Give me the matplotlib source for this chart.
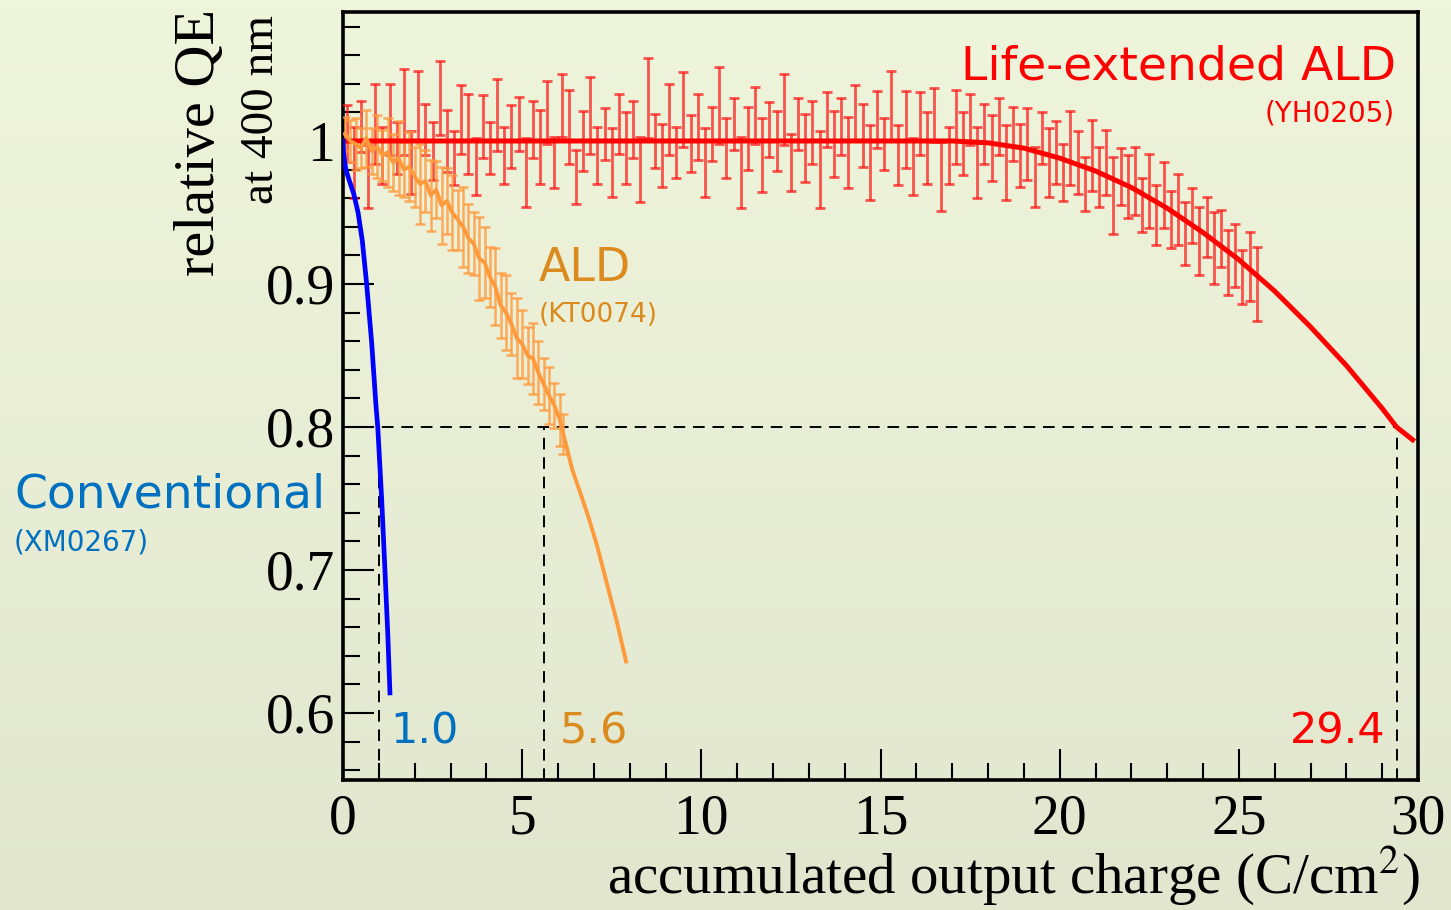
import numpy as np
import matplotlib
matplotlib.use('Agg')
import matplotlib.pyplot as plt
from matplotlib.ticker import MultipleLocator, FixedLocator, FixedFormatter

plt.rcParams['mathtext.fontset'] = 'stix'

# Life-extended ALD (YH0205) - measured points
red_x = [0.1, 0.3, 0.5, 0.7, 0.9, 1.1, 1.3, 1.5, 1.7, 1.9,
         2.1, 2.3, 2.5, 2.7, 2.9, 3.1, 3.3, 3.5, 3.7, 3.9,
         4.1, 4.3, 4.5, 4.7, 4.9, 5.1, 5.3, 5.5, 5.7, 5.9,
         6.1, 6.3, 6.5, 6.7, 6.9, 7.1, 7.3, 7.5, 7.7, 7.9,
         8.1, 8.3, 8.5, 8.7, 8.9, 9.1, 9.3, 9.5, 9.7, 9.9,
         10.1, 10.3, 10.5, 10.7, 10.9, 11.1, 11.3, 11.5, 11.7, 11.9,
         12.1, 12.3, 12.5, 12.7, 12.9, 13.1, 13.3, 13.5, 13.7, 13.9,
         14.1, 14.3, 14.5, 14.7, 14.9, 15.1, 15.3, 15.5, 15.7, 15.9,
         16.1, 16.3, 16.5, 16.7, 16.9, 17.1, 17.3, 17.5, 17.7, 17.9,
         18.1, 18.3, 18.5, 18.7, 18.9, 19.1, 19.3, 19.5, 19.7, 19.9,
         20.1, 20.3, 20.5, 20.7, 20.9, 21.1, 21.3, 21.5, 21.7, 21.9,
         22.1, 22.3, 22.5, 22.7, 22.9, 23.1, 23.3, 23.5, 23.7, 23.9,
         24.1, 24.3, 24.5, 24.7, 24.9, 25.1, 25.3, 25.5]
red_y = [1.005, 0.985, 1.010, 0.975, 1.012, 0.990, 1.015, 0.995, 1.020, 0.985,
         1.025, 1.008, 0.993, 1.030, 1.000, 0.988, 1.015, 1.005, 0.982, 1.010,
         0.995, 1.018, 0.990, 1.003, 1.012, 0.978, 1.008, 0.996, 1.020, 0.985,
         1.025, 1.010, 0.975, 1.000, 1.018, 0.990, 1.005, 0.985, 1.012, 0.995,
         1.008, 0.980, 1.030, 1.000, 0.990, 1.015, 0.992, 1.022, 0.998, 1.010,
         0.985, 1.005, 1.025, 0.995, 1.012, 0.978, 1.002, 1.018, 0.990, 1.008,
         1.000, 1.022, 0.985, 1.012, 0.995, 1.006, 0.980, 1.015, 0.998, 1.010,
         0.992, 1.020, 1.004, 0.985, 1.015, 0.998, 1.025, 0.990, 1.008, 0.982,
         1.012, 0.995, 1.018, 0.975, 0.990, 1.010, 0.998, 1.015, 0.985, 1.005,
         0.995, 1.010, 0.985, 1.005, 0.990, 0.998, 0.975, 1.002, 0.985, 0.992,
         0.978, 0.995, 0.985, 0.970, 0.990, 0.975, 0.985, 0.962, 0.975, 0.968,
         0.972, 0.955, 0.965, 0.948, 0.962, 0.945, 0.952, 0.935, 0.948, 0.930,
         0.940, 0.925, 0.932, 0.915, 0.920, 0.905, 0.912, 0.900]
red_err = [0.020, 0.025, 0.018, 0.022, 0.028, 0.020, 0.025, 0.018, 0.030, 0.022,
           0.024, 0.018, 0.020, 0.026, 0.022, 0.019, 0.024, 0.028, 0.020, 0.022,
           0.018, 0.025, 0.020, 0.022, 0.019, 0.024, 0.020, 0.026, 0.022, 0.018,
           0.022, 0.026, 0.019, 0.021, 0.027, 0.020, 0.018, 0.024, 0.021, 0.025,
           0.020, 0.023, 0.028, 0.019, 0.022, 0.025, 0.018, 0.026, 0.020, 0.023,
           0.024, 0.019, 0.027, 0.021, 0.018, 0.025, 0.022, 0.020, 0.026, 0.019,
           0.021, 0.025, 0.020, 0.018, 0.024, 0.022, 0.027, 0.019, 0.023, 0.020,
           0.025, 0.019, 0.022, 0.026, 0.020, 0.018, 0.024, 0.021, 0.027, 0.020,
           0.022, 0.025, 0.019, 0.024, 0.020, 0.026, 0.022, 0.018, 0.025, 0.021,
           0.023, 0.020, 0.026, 0.019, 0.022, 0.025, 0.021, 0.018, 0.024, 0.022,
           0.020, 0.026, 0.022, 0.019, 0.025, 0.021, 0.023, 0.027, 0.020, 0.022,
           0.024, 0.019, 0.026, 0.021, 0.023, 0.020, 0.025, 0.022, 0.019, 0.024,
           0.021, 0.025, 0.020, 0.023, 0.022, 0.019, 0.024, 0.026]

# life-extended fit curve
fit_x = [0, 17, 18, 19, 20, 21, 22, 23, 24, 25, 26, 27, 28, 29, 29.4, 29.85]
fit_y = [1.0, 1.0, 0.9987, 0.995, 0.988, 0.979, 0.9675, 0.953, 0.936, 0.917,
         0.895, 0.870, 0.843, 0.813, 0.800, 0.791]

# ALD (KT0074)
ald_x = [0.05, 0.2, 0.35, 0.5, 0.65, 0.8, 0.95, 1.1, 1.25, 1.4,
         1.55, 1.7, 1.85, 2.0, 2.15, 2.3, 2.45, 2.6, 2.75, 2.9,
         3.05, 3.2, 3.35, 3.5, 3.65, 3.8, 3.95, 4.1, 4.25, 4.4,
         4.55, 4.7, 4.85, 5.0, 5.15, 5.3, 5.45, 5.6, 5.75, 5.9,
         6.05, 6.15]
ald_y = [1.005, 1.000, 0.998, 0.995, 1.002, 0.993, 0.996, 0.990, 0.992, 0.985,
         0.988, 0.980, 0.982, 0.975, 0.970, 0.972, 0.962, 0.966, 0.955, 0.958,
         0.950, 0.945, 0.940, 0.932, 0.928, 0.918, 0.915, 0.905, 0.898, 0.885,
         0.880, 0.872, 0.862, 0.858, 0.850, 0.848, 0.838, 0.830, 0.822, 0.815,
         0.805, 0.795]
ald_err = [0.012, 0.015, 0.018, 0.014, 0.020, 0.016, 0.022, 0.018, 0.024, 0.020,
           0.026, 0.019, 0.024, 0.021, 0.028, 0.022, 0.025, 0.020, 0.027, 0.023,
           0.026, 0.021, 0.028, 0.024, 0.022, 0.029, 0.025, 0.021, 0.027, 0.023,
           0.026, 0.022, 0.028, 0.024, 0.020, 0.025, 0.022, 0.018, 0.020, 0.016,
           0.018, 0.014]
ald_tail_x = [6.15, 6.4, 6.62, 6.85, 7.09, 7.37, 7.65, 7.9]
ald_tail_y = [0.795, 0.770, 0.754, 0.737, 0.717, 0.690, 0.663, 0.636]

# Conventional (XM0267)
conv_x = [0, 0.02, 0.08, 0.18, 0.3, 0.42, 0.54, 0.66, 0.8, 0.92, 0.97, 1.08, 1.17, 1.25, 1.31]
conv_y = [1.0, 0.99, 0.98, 0.972, 0.963, 0.950, 0.930, 0.900, 0.859, 0.815, 0.80, 0.749, 0.70, 0.655, 0.614]

# 80% crossing points
cross_x = [1.0, 5.6, 29.4]
cross_labels = ['1.0', '5.6', '29.4']
cross_colors = ['#0070C0', '#DB8A1E', '#FF0000']

fig = plt.figure(figsize=(14.51, 9.10), dpi=100)

# background gradient
bg = fig.add_axes([0, 0, 1, 1], zorder=-10)
grad = np.linspace(0, 1, 256).reshape(-1, 1)
bg.imshow(grad, aspect='auto', extent=[0, 1, 0, 1],
          cmap=matplotlib.colors.LinearSegmentedColormap.from_list('bg', ['#EFF5DB', '#E2E6CF']))
bg.axis('off')

ax = fig.add_axes([343/1451, 130/910, 1075/1451, 768/910])
ax.set_facecolor('none')

ax.errorbar(red_x, red_y, yerr=red_err, fmt='none', ecolor='#FF1010', alpha=0.7,
            elinewidth=2.0, capsize=3.5, capthick=2.0, zorder=3)
ax.plot(fit_x, fit_y, color='#FF0000', lw=3.6, zorder=4)

ax.errorbar(ald_x, ald_y, yerr=ald_err, fmt='none', ecolor='#FF9A3C', alpha=0.8,
            elinewidth=1.8, capsize=3.5, capthick=1.8, zorder=3)
ax.plot(ald_x + ald_tail_x[1:], ald_y + ald_tail_y[1:], color='#FF9A3C', lw=2.8, zorder=4)

ax.plot(conv_x, conv_y, color='#0000FF', lw=3.4, zorder=5)

# dashed 80% lines
ax.plot([0, 29.4], [0.8, 0.8], color='black', lw=1.4, ls=(0, (6, 4)), zorder=2)
for cx in cross_x:
    ax.plot([cx, cx], [0.553, 0.8], color='black', lw=1.4, ls=(0, (6, 4)), zorder=2)

ax.set_xlim(0, 30)
ax.set_ylim(0.5531, 1.0902)

ax.xaxis.set_major_locator(MultipleLocator(5))
ax.xaxis.set_minor_locator(MultipleLocator(1))
ax.yaxis.set_major_locator(FixedLocator([0.6, 0.7, 0.8, 0.9, 1.0]))
ax.yaxis.set_major_formatter(FixedFormatter(['0.6', '0.7', '0.8', '0.9', '1']))
ax.yaxis.set_minor_locator(MultipleLocator(0.02))

ax.tick_params(which='both', direction='in', top=False, right=False, width=1.5, color='black')
ax.tick_params(which='major', length=22)
ax.tick_params(which='minor', length=12)
ax.tick_params(axis='y', pad=6)
ax.tick_params(axis='x', pad=10)
for lab in ax.get_xticklabels() + ax.get_yticklabels():
    lab.set_fontfamily('Liberation Serif')
    lab.set_fontsize(40)

for s in ax.spines.values():
    s.set_linewidth(2.6)

# axis titles
fig.text(200/1451, 1 - 142/910, 'relative QE', rotation=90, ha='center', va='center',
         fontsize=42, family='Liberation Serif')
fig.text(262/1451, 1 - 110/910, 'at 400 nm', rotation=90, ha='center', va='center',
         fontsize=34, family='Liberation Serif')
fig.text(1420/1451, 1 - 894/910, 'accumulated output charge (C/cm$^2$)', ha='right', va='baseline',
         fontsize=41, family='Liberation Serif')

# series labels
sans = 'DejaVu Sans'
ax.text(29.39, 1.052, 'Life-extended ALD', color='#FF0000', ha='right', va='center',
        fontsize=34, family=sans)
ax.text(29.35, 1.019, '(YH0205)', color='#FF0000', ha='right', va='center',
        fontsize=20, family=sans)
ax.text(5.45, 0.911, 'ALD', color='#DB8A1E', ha='left', va='center', fontsize=33, family=sans)
ax.text(5.45, 0.878, '(KT0074)', color='#DB8A1E', ha='left', va='center', fontsize=19, family=sans)
fig.text(14/1451, 1 - 495/910, 'Conventional', color='#0070C0', ha='left', va='center',
         fontsize=34, family=sans)
fig.text(14/1451, 1 - 543/910, '(XM0267)', color='#0070C0', ha='left', va='center',
         fontsize=20, family=sans)

ax.text(1.31, 0.587, cross_labels[0], color=cross_colors[0], ha='left', va='center', fontsize=31, family=sans)
ax.text(6.06, 0.587, cross_labels[1], color=cross_colors[1], ha='left', va='center', fontsize=31, family=sans)
ax.text(29.1, 0.587, cross_labels[2], color=cross_colors[2], ha='right', va='center', fontsize=31, family=sans)

fig.savefig('out.png', dpi=100)
